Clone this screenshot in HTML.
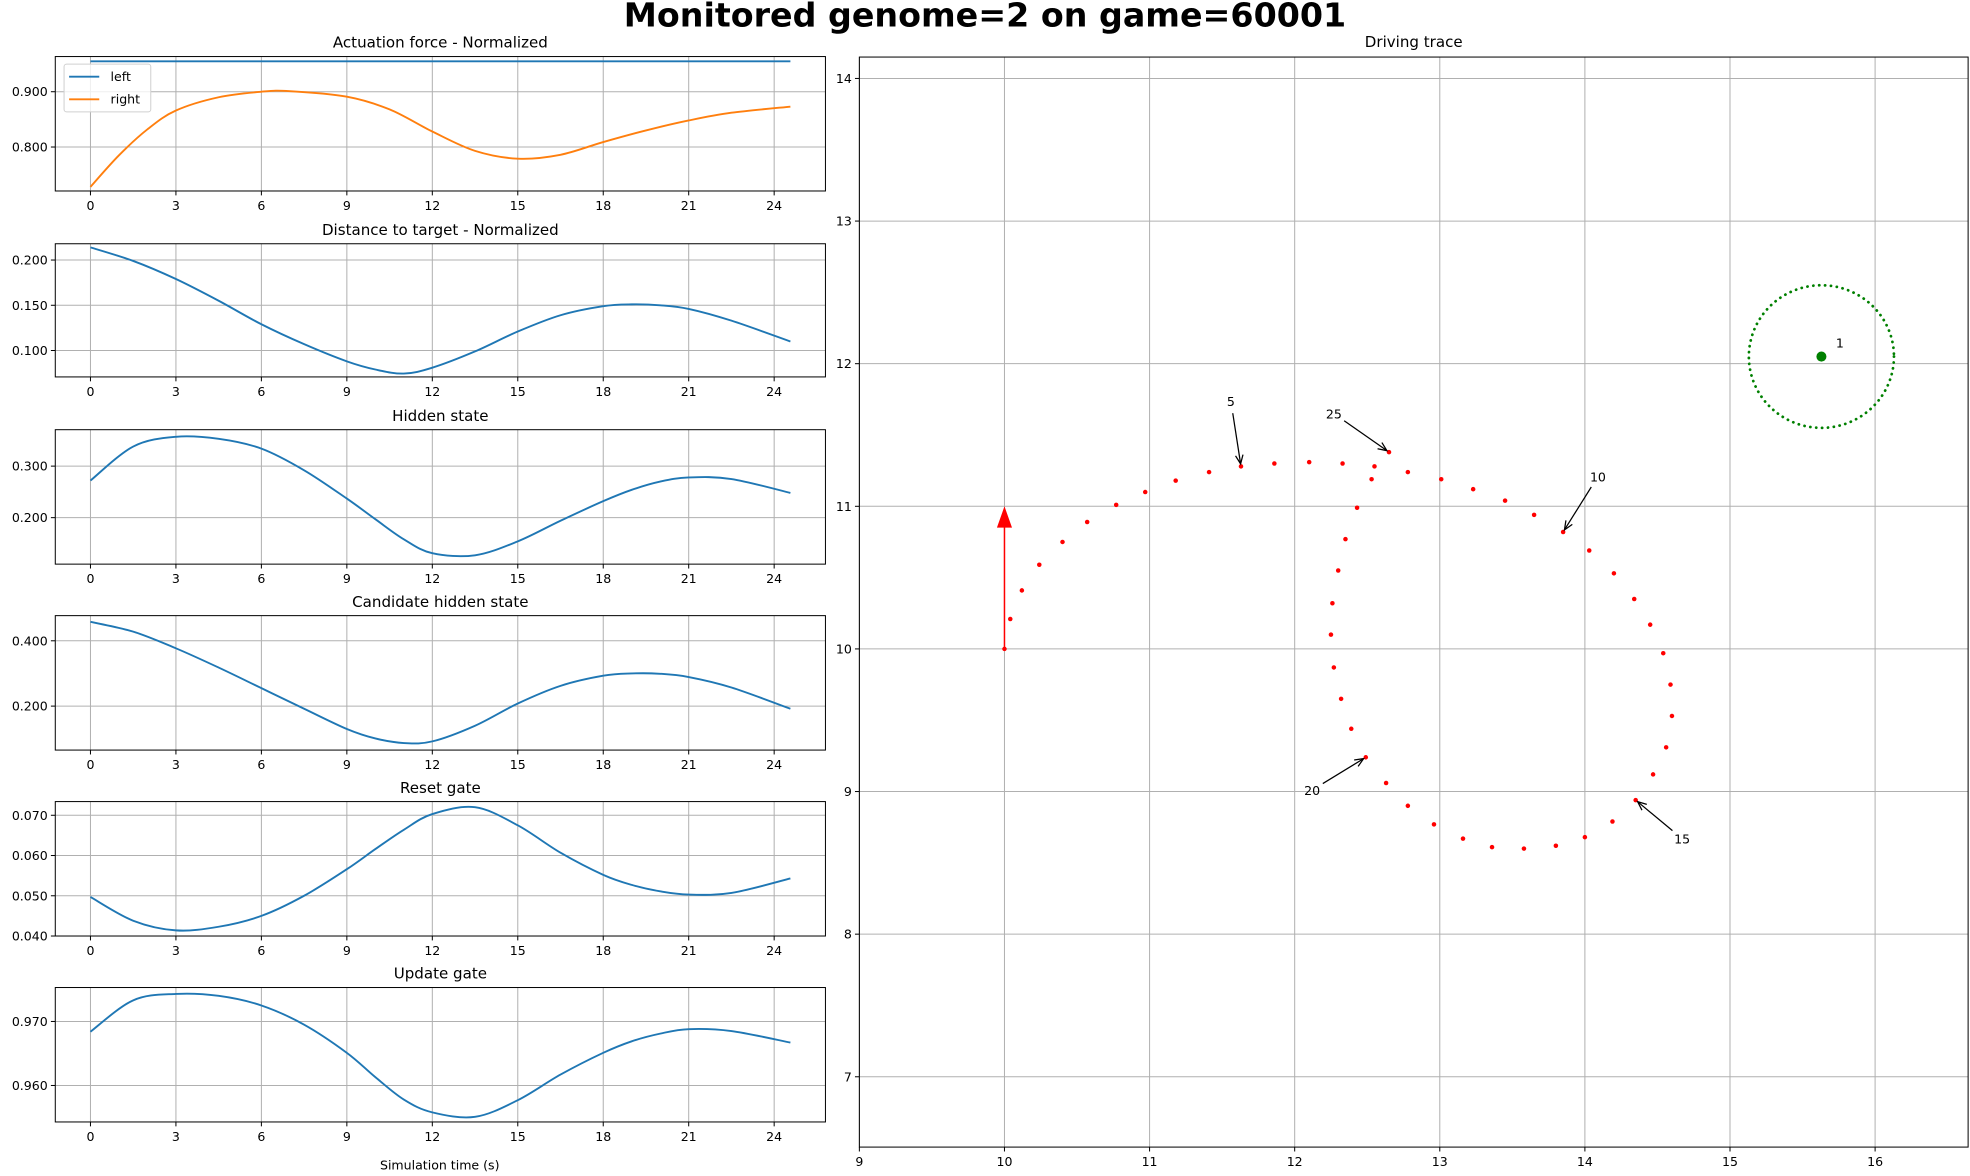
<!DOCTYPE html>
<html><head><meta charset="utf-8"><style>
html,body{margin:0;padding:0;background:#fff;}
svg{display:block;font-family:"DejaVu Sans","Liberation Sans",sans-serif;}
</style></head><body>
<svg id="fig" width="1970" height="1176" viewBox="0 0 1568 936" xmlns="http://www.w3.org/2000/svg">
<rect width="1568" height="936" fill="#fff"/>
<text x="784" y="21" text-anchor="middle" font-size="26.5" font-weight="bold">Monitored genome=2 on game=60001</text>
</svg>
<script>
const NS='http://www.w3.org/2000/svg';
const svg=document.getElementById('fig');
function mk(tag,attrs,parent){const e=document.createElementNS(NS,tag);for(const k in attrs)e.setAttribute(k,attrs[k]);(parent||svg).appendChild(e);return e;}

// ---- data ----
const timeSteps=[0,1,2,3,4.5,6,7,9,10.5,12,13.5,15,16.5,18,19.5,21,22.5,24.57];
const leftForce=[0.955,0.955,0.955,0.955,0.955,0.955,0.955,0.955,0.955,0.955,0.955,0.955,0.955,0.955,0.955,0.955,0.955,0.955];
const rightForce=[0.728,0.785,0.832,0.866,0.890,0.900,0.901,0.891,0.868,0.828,0.793,0.779,0.786,0.809,0.830,0.848,0.862,0.873];
const timeB=[0,1.5,3,4.5,6,7.5,9,10,11,12,13.5,15,16.5,18,19,20,21,22.5,24.57];
const distance=[0.214,0.199,0.179,0.155,0.129,0.107,0.088,0.079,0.0745,0.081,0.099,0.121,0.139,0.149,0.151,0.150,0.146,0.133,0.110];
const hidden=[0.272,0.338,0.357,0.353,0.334,0.292,0.237,0.197,0.158,0.131,0.127,0.154,0.194,0.232,0.254,0.270,0.278,0.275,0.248];
const candidate=[0.458,0.428,0.377,0.318,0.255,0.192,0.130,0.101,0.087,0.092,0.140,0.208,0.262,0.293,0.300,0.299,0.289,0.257,0.192];
const resetGate=[0.0497,0.0438,0.0414,0.0423,0.0450,0.0500,0.0566,0.0616,0.0664,0.0703,0.0720,0.0675,0.0607,0.0552,0.0527,0.0511,0.0503,0.0507,0.0543];
const updateGate=[0.9684,0.9733,0.9743,0.9740,0.9725,0.9695,0.9651,0.9613,0.9578,0.9558,0.9551,0.9577,0.9617,0.9651,0.9669,0.9681,0.9688,0.9685,0.9667];
const xTicks=[0,3,6,9,12,15,18,21,24];

const panels=[
 {name:'actuation-force',title:'Actuation force - Normalized',top:45,bot:152,ymin:0.7205,ymax:0.9636,ticks:[0.8,0.9],series:[{x:timeSteps,y:leftForce,c:'#1f77b4',n:'left'},{x:timeSteps,y:rightForce,c:'#ff7f0e',n:'right'}]},
 {name:'distance-to-target',title:'Distance to target - Normalized',top:194,bot:300,ymin:0.0708,ymax:0.218,ticks:[0.1,0.15,0.2],series:[{x:timeB,y:distance,c:'#1f77b4',n:'distance'}]},
 {name:'hidden-state',title:'Hidden state',top:342,bot:449,ymin:0.1098,ymax:0.3707,ticks:[0.2,0.3],series:[{x:timeB,y:hidden,c:'#1f77b4',n:'hidden'}]},
 {name:'candidate-hidden-state',title:'Candidate hidden state',top:490,bot:597,ymin:0.0654,ymax:0.477,ticks:[0.2,0.4],series:[{x:timeB,y:candidate,c:'#1f77b4',n:'candidate'}]},
 {name:'reset-gate',title:'Reset gate',top:638,bot:745,ymin:0.040,ymax:0.0734,ticks:[0.04,0.05,0.06,0.07],series:[{x:timeB,y:resetGate,c:'#1f77b4',n:'reset'}]},
 {name:'update-gate',title:'Update gate',top:786,bot:893,ymin:0.9543,ymax:0.9753,ticks:[0.96,0.97],series:[{x:timeB,y:updateGate,c:'#1f77b4',n:'update'}]}
];
const LX0=44,LX1=657,TMIN=-1.235,TMAX=25.8;
function sx(t){return LX0+(t-TMIN)/(TMAX-TMIN)*(LX1-LX0);}
function smoothPath(pts){
 let d='M'+pts[0][0].toFixed(2)+','+pts[0][1].toFixed(2);
 for(let i=0;i<pts.length-1;i++){
  const p0=pts[Math.max(0,i-1)],p1=pts[i],p2=pts[i+1],p3=pts[Math.min(pts.length-1,i+2)];
  const c1=[p1[0]+(p2[0]-p0[0])/6,p1[1]+(p2[1]-p0[1])/6];
  const c2=[p2[0]-(p3[0]-p1[0])/6,p2[1]-(p3[1]-p1[1])/6];
  d+='C'+c1[0].toFixed(2)+','+c1[1].toFixed(2)+' '+c2[0].toFixed(2)+','+c2[1].toFixed(2)+' '+p2[0].toFixed(2)+','+p2[1].toFixed(2);
 }
 return d;
}
panels.forEach(p=>{
 const g=mk('g',{});
 
 
 const sy=v=>p.bot-(v-p.ymin)/(p.ymax-p.ymin)*(p.bot-p.top);
 xTicks.forEach(t=>{
  const l=mk('line',{x1:sx(t),x2:sx(t),y1:p.top,y2:p.bot,stroke:'#b0b0b0','stroke-width':0.8},g);
  
  mk('line',{x1:sx(t),x2:sx(t),y1:p.bot,y2:p.bot+3.5,stroke:'#000','stroke-width':0.8},g);
  const tx=mk('text',{x:sx(t),y:p.bot+15,'text-anchor':'middle','font-size':10},g);tx.textContent=t;
  
 });
 p.ticks.forEach(v=>{
  const y=sy(v);
  mk('line',{x1:LX0,x2:LX1,y1:y,y2:y,stroke:'#b0b0b0','stroke-width':0.8},g);
  mk('line',{x1:LX0-3.5,x2:LX0,y1:y,y2:y,stroke:'#000','stroke-width':0.8},g);
  const tx=mk('text',{x:LX0-6,y:y+3.6,'text-anchor':'end','font-size':10},g);tx.textContent=v.toFixed(3);
  
 });
 p.series.forEach(s=>{
  const pts=s.x.map((t,i)=>[sx(t),sy(s.y[i])]);
  const path=mk('path',{d:smoothPath(pts),fill:'none',stroke:s.c,'stroke-width':1.5},g);
  
 });
 const fr=mk('rect',{x:LX0,y:p.top,width:LX1-LX0,height:p.bot-p.top,fill:'none',stroke:'#000','stroke-width':0.8},g);
 
 const tt=mk('text',{x:(LX0+LX1)/2,y:p.top-7,'text-anchor':'middle','font-size':12},g);tt.textContent=p.title;
 
});
// legend
{const g=mk('g',{});
 mk('rect',{x:51,y:51,width:69,height:38,rx:2,fill:'#fff','fill-opacity':0.8,stroke:'#d0d0d0','stroke-width':0.8},g);
 [['left','#1f77b4',61],['right','#ff7f0e',79]].forEach(e=>{
  const eg=mk('g',{},g);
  mk('line',{x1:55,x2:79,y1:e[2],y2:e[2],stroke:e[1],'stroke-width':1.5},eg);
  const t=mk('text',{x:88,y:e[2]+3.5,'font-size':10},eg);t.textContent=e[0];
 });}
{const t=mk('text',{x:350,y:931,'text-anchor':'middle','font-size':10});t.textContent='Simulation time (s)';
 }

// ---- driving trace ----
const traceX=[10.0,10.04,10.12,10.24,10.40,10.57,10.77,10.97,11.18,11.41,11.63,11.86,12.10,12.33,12.55,12.78,13.01,13.23,13.45,13.65,13.85,14.03,14.20,14.34,14.45,14.54,14.59,14.60,14.56,14.47,14.35,14.19,14.00,13.80,13.58,13.36,13.16,12.96,12.78,12.63,12.49,12.39,12.32,12.27,12.25,12.26,12.30,12.35,12.43,12.53,12.65];
const traceY=[10.0,10.21,10.41,10.59,10.75,10.89,11.01,11.10,11.18,11.24,11.28,11.30,11.31,11.30,11.28,11.24,11.19,11.12,11.04,10.94,10.82,10.69,10.53,10.35,10.17,9.97,9.75,9.53,9.31,9.12,8.94,8.79,8.68,8.62,8.60,8.61,8.67,8.77,8.90,9.06,9.24,9.44,9.65,9.87,10.10,10.32,10.55,10.77,10.99,11.19,11.38];
const annLabels=['5','10','15','20','25'];
const annPointIdx=[10,20,30,40,50];
const annTextX=[11.56,14.09,14.67,12.12,12.27];
const annTextY=[11.74,11.21,8.67,9.01,11.65];
const targetX=15.63,targetY=12.05,targetR=0.5;
const gridX=[9,10,11,12,13,14,15,16];
const gridY=[7,8,9,10,11,12,13,14];
const RX0=684,RX1=1566.5,RY0=45.4,RY1=913;
const XMIN=9,XMAX=16.641,YMIN=6.507,YMAX=14.15;
const px=v=>RX0+(v-XMIN)/(XMAX-XMIN)*(RX1-RX0);
const py=v=>RY1-(v-YMIN)/(YMAX-YMIN)*(RY1-RY0);
const G=mk('g',{});
gridX.forEach(v=>{
 mk('line',{x1:px(v),x2:px(v),y1:RY0,y2:RY1,stroke:'#b0b0b0','stroke-width':0.8},G);
 mk('line',{x1:px(v),x2:px(v),y1:RY1,y2:RY1+3.5,stroke:'#000','stroke-width':0.8},G);
 const t=mk('text',{x:px(v),y:RY1+15,'text-anchor':'middle','font-size':10},G);t.textContent=v;
 
});
gridY.forEach(v=>{
 mk('line',{x1:RX0,x2:RX1,y1:py(v),y2:py(v),stroke:'#b0b0b0','stroke-width':0.8},G);
 mk('line',{x1:RX0-3.5,x2:RX0,y1:py(v),y2:py(v),stroke:'#000','stroke-width':0.8},G);
 const t=mk('text',{x:RX0-6,y:py(v)+3.6,'text-anchor':'end','font-size':10},G);t.textContent=v;
 
});
// heading arrow
{const x=px(traceX[0]),y0=py(traceY[0]),y1=py(traceY[0]+1);
 const a=mk('g',{},G);
 mk('line',{x1:x,x2:x,y1:y0,y2:y1+14,stroke:'red','stroke-width':1.2},a);
 mk('polygon',{points:`${x},${y1} ${x-6},${y1+17} ${x+6},${y1+17}`,fill:'red'},a);}
traceX.forEach((v,i)=>{
 const c=mk('circle',{cx:px(v),cy:py(traceY[i]),r:1.8,fill:'red'},G);
 
});
// target
{const tc=mk('ellipse',{cx:px(targetX),cy:py(targetY),rx:(px(targetX+targetR)-px(targetX)),ry:(py(targetY)-py(targetY+targetR)),fill:'none',stroke:'green','stroke-width':2.2,'stroke-dasharray':'0.1 4.6','stroke-linecap':'round'},G);
 
 const d=mk('circle',{cx:px(targetX),cy:py(targetY),r:4,fill:'green'},G);
 
 const t=mk('text',{x:px(targetX+0.1),y:py(targetY+0.1)+4,'font-size':10},G);t.textContent='1';
 }
// annotations
annLabels.forEach((lab,i)=>{
 const g=mk('g',{},G);
 const tx=px(annTextX[i]),ty=py(annTextY[i]);
 const t=mk('text',{x:tx,y:ty+4,'text-anchor':'middle','font-size':10},g);t.textContent=lab;
 const ex=px(traceX[annPointIdx[i]]),ey=py(traceY[annPointIdx[i]]);
 let dx=ex-tx,dy=ey-ty;const L=Math.hypot(dx,dy);dx/=L;dy/=L;
 const sx0=tx+dx*10,sy0=ty+dy*10,ax=ex-dx*2,ay=ey-dy*2;
 mk('line',{x1:sx0,y1:sy0,x2:ax,y2:ay,stroke:'#000','stroke-width':1},g);
 const hx=-dy,hy=dx;
 mk('polyline',{points:`${ax-dx*7+hx*3},${ay-dy*7+hy*3} ${ax},${ay} ${ax-dx*7-hx*3},${ay-dy*7-hy*3}`,fill:'none',stroke:'#000','stroke-width':1},g);
});
mk('rect',{x:RX0,y:RY0,width:RX1-RX0,height:RY1-RY0,fill:'none',stroke:'#000','stroke-width':0.8},G);
{const t=mk('text',{x:(RX0+RX1)/2,y:RY0-8,'text-anchor':'middle','font-size':12},G);t.textContent='Driving trace';
 }
</script>
</body></html>
